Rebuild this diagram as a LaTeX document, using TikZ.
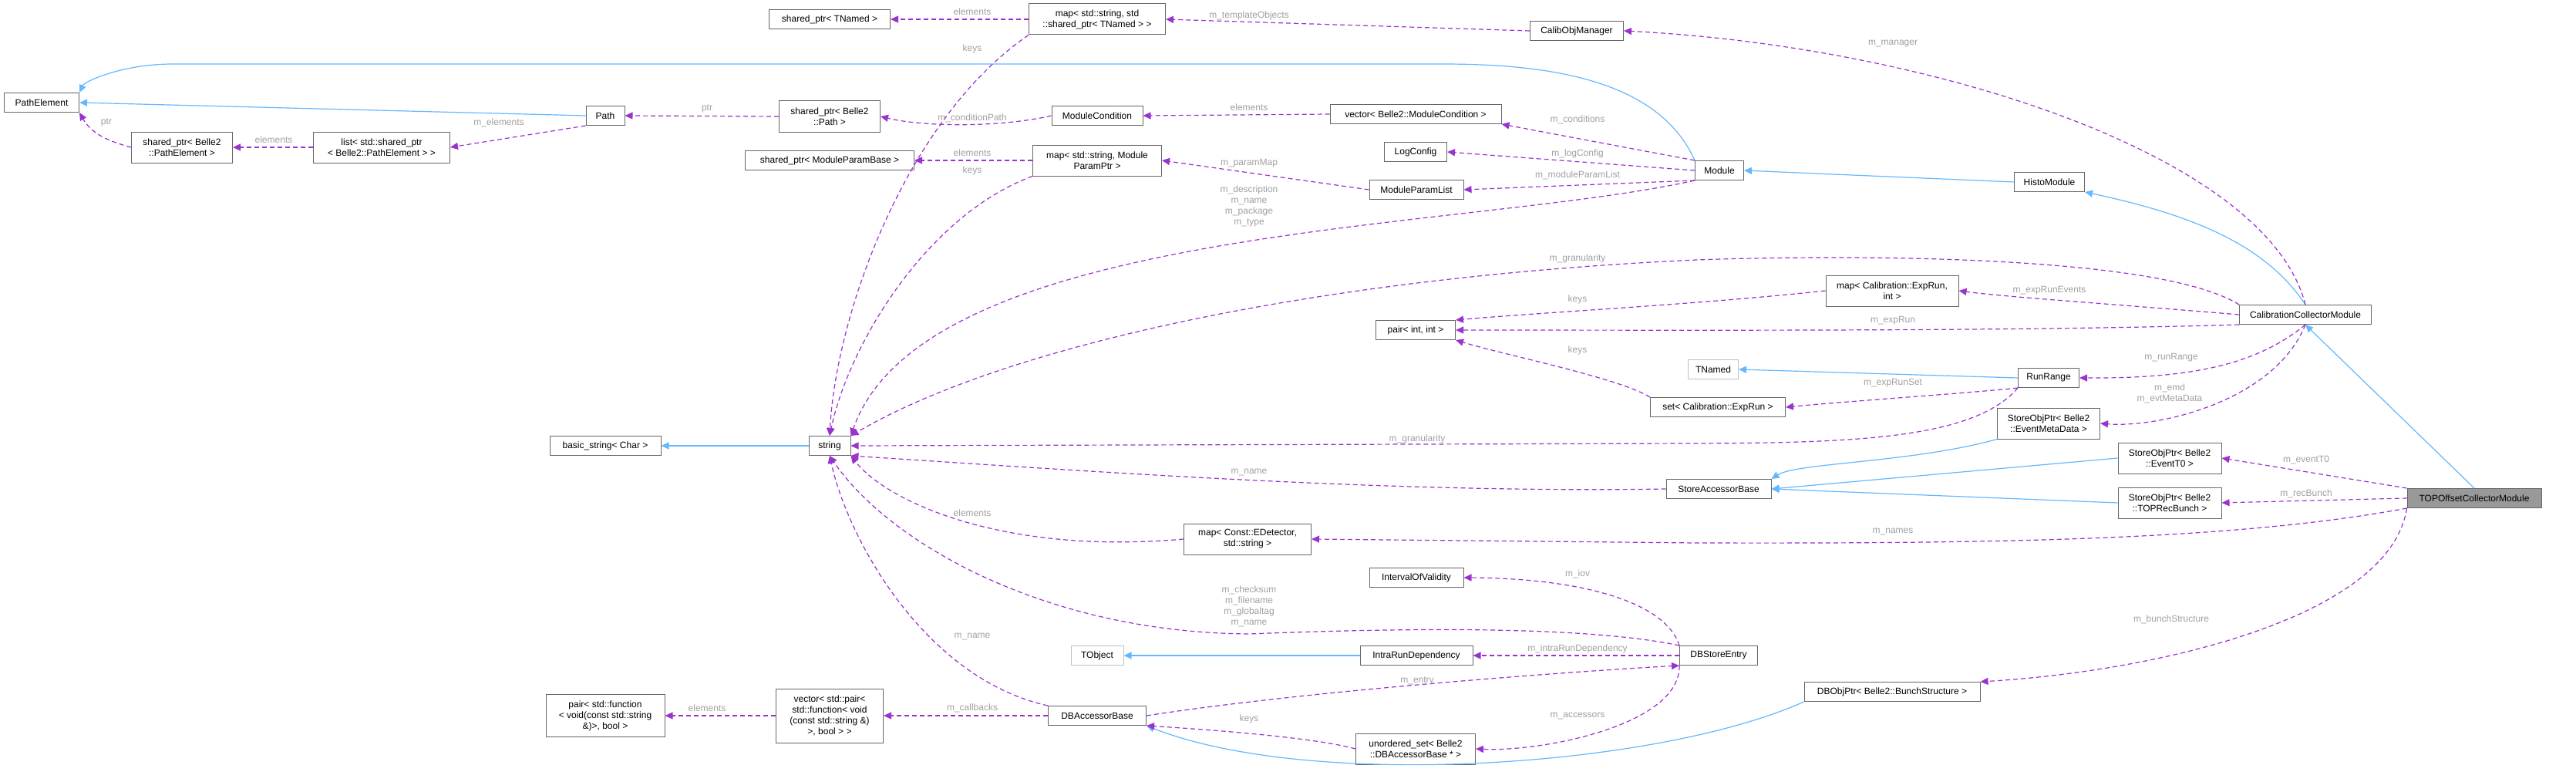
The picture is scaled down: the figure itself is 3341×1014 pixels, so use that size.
\documentclass[tikz,border=0pt]{standalone}
\usepackage{fontspec}
\setmainfont{Liberation Sans}
\usetikzlibrary{arrows.meta}
\definecolor{mp}{RGB}{154,50,205}
\definecolor{ib}{RGB}{99,184,255}
\definecolor{lg}{RGB}{160,160,160}
\tikzset{
 box/.style={draw=black!60,line width=1pt,fill=white,inner sep=1pt,align=center,font=\fontsize{12}{14}\selectfont},
 gbox/.style={box,draw=black!25},
 mem/.style={mp,dashed,dash pattern=on 6pt off 4pt,line width=1.2pt,-{Triangle[length=10pt,width=9pt]}},
 inh/.style={ib,line width=1.2pt,-{Triangle[length=10pt,width=9pt]}},
 lab/.style={text=lg,font=\fontsize{12}{14}\selectfont,align=center,inner sep=0pt}
}
\begin{document}
\begin{tikzpicture}[x=1pt,y=-1pt]
\path[use as bounding box,fill=white] (0,0) rectangle (3341,1014);
% nodes
\node[box,minimum width=97,minimum height=25] (PE) at (54,133) {PathElement};
\node[box,minimum width=50,minimum height=25] (Path) at (785,150) {Path};
\node[box,minimum width=131,minimum height=40] (spPE) at (236,191) {shared\_ptr< Belle2\\::PathElement >};
\node[box,minimum width=177,minimum height=40] (list) at (495,191) {list< std::shared\_ptr\\< Belle2::PathElement > >};
\node[box,minimum width=157,minimum height=25] (spTN) at (1076,25) {shared\_ptr< TNamed >};
\node[box,minimum width=177,minimum height=40] (mapTN) at (1423,25) {map< std::string, std\\::shared\_ptr< TNamed > >};
\node[box,minimum width=121,minimum height=25] (COM) at (2045,40) {CalibObjManager};
\node[box,minimum width=131,minimum height=40] (spPath) at (1076,151) {shared\_ptr< Belle2\\::Path >};
\node[box,minimum width=118,minimum height=25] (MC) at (1423,150) {ModuleCondition};
\node[box,minimum width=222,minimum height=25] (vecMC) at (1836,148) {vector< Belle2::ModuleCondition >};
\node[box,minimum width=219,minimum height=25] (spMPB) at (1076,208) {shared\_ptr< ModuleParamBase >};
\node[box,minimum width=167,minimum height=40] (mapMPP) at (1423,208) {map< std::string, Module\\ParamPtr >};
\node[box,minimum width=81,minimum height=25] (LC) at (1836,197) {LogConfig};
\node[box,minimum width=122,minimum height=25] (MPL) at (1837,246) {ModuleParamList};
\node[box,minimum width=63,minimum height=25] (Mod) at (2230,221) {Module};
\node[box,minimum width=91,minimum height=25] (HM) at (2658,236) {HistoModule};
\node[box,minimum width=103,minimum height=25] (pii) at (1836,428) {pair< int, int >};
\node[box,minimum width=172,minimum height=40] (mapER) at (2454,377) {map< Calibration::ExpRun,\\int >};
\node[box,minimum width=171,minimum height=25] (CCM) at (2990,408) {CalibrationCollectorModule};
\node[gbox,minimum width=65,minimum height=25] (TN) at (2222,479) {TNamed};
\node[box,minimum width=79,minimum height=25] (RR) at (2657,490) {RunRange};
\node[box,minimum width=175,minimum height=25] (setER) at (2228,528) {set< Calibration::ExpRun >};
\node[box,minimum width=54,minimum height=25] (str) at (1076,578) {string};
\node[box,minimum width=144,minimum height=25] (bs) at (785,578) {basic\_string< Char >};
\node[box,minimum width=133,minimum height=40] (EMD) at (2657,549) {StoreObjPtr< Belle2\\::EventMetaData >};
\node[box,minimum width=136,minimum height=25] (SAB) at (2229,634) {StoreAccessorBase};
\node[box,minimum width=134,minimum height=40] (ET0) at (2814,594) {StoreObjPtr< Belle2\\::EventT0 >};
\node[box,minimum width=134,minimum height=40] (TRB) at (2814,652) {StoreObjPtr< Belle2\\::TOPRecBunch >};
\node[box,minimum width=174,minimum height=25,fill=black!40] (TOP) at (3209,646) {TOPOffsetCollectorModule};
\node[box,minimum width=165,minimum height=40] (mapED) at (1618,699) {map< Const::EDetector,\\std::string >};
\node[box,minimum width=122,minimum height=25] (IOV) at (1837,749) {IntervalOfValidity};
\node[gbox,minimum width=68,minimum height=25] (TO) at (1423,850) {TObject};
\node[box,minimum width=146,minimum height=25] (IRD) at (1837,850) {IntraRunDependency};
\node[box,minimum width=101,minimum height=25] (DBE) at (2229,850) {DBStoreEntry};
\node[box,minimum width=127,minimum height=25] (DBA) at (1423,928) {DBAccessorBase};
\node[box,minimum width=139,minimum height=70] (vp) at (1076,928) {vector< std::pair<\\std::function< void\\(const std::string \&)\\>, bool > >};
\node[box,minimum width=154,minimum height=55] (pf) at (785,928) {pair< std::function\\< void(const std::string\\\&)>, bool >};
\node[box,minimum width=155,minimum height=40] (us) at (1836,971) {unordered\_set< Belle2\\::DBAccessorBase * >};
\node[box,minimum width=228,minimum height=25] (DBO) at (2454,897) {DBObjPtr< Belle2::BunchStructure >};
% inheritance
\draw[inh] (Path.west) -- (PE.east);
\draw[inh] (Mod.north west) .. controls (2150,100) and (2000,83) .. (1870,83) -- (224,83) .. controls (160,83) and (110,105) .. (PE.north east);
\draw[inh] (HM.west) -- (Mod.east);
\draw[inh] (CCM.north) .. controls (2940,320) and (2850,280) .. (HM.south east);
\draw[inh] (TOP.north) -- (CCM.south);
\draw[inh] (RR.west) -- (TN.east);
\draw[inh] (str.west) -- (bs.east);
\draw[inh] (EMD.south west) .. controls (2480,600) and (2330,600) .. (SAB.north east);
\draw[inh] (ET0.west) -- (SAB.east);
\draw[inh] (TRB.west) -- (SAB.east);
\draw[inh] (IRD.west) -- (TO.east);
\draw[inh] (DBO.south west) .. controls (2150,995) and (1700,1025) .. (DBA.south east);
% members
\draw[mem] (spPE.west) to[out=165,in=-60] (PE.south east);
\draw[mem] (list.west) -- (spPE.east);
\draw[mem] (Path.south west) -- (list.east);
\draw[mem] (spPath.west) -- (Path.east);
\draw[mem] (mapTN.west) -- (spTN.east);
\draw[mem] (mapTN.south west) .. controls (1180,150) and (1085,400) .. (str.north);
\draw[mem] (COM.west) -- (mapTN.east);
\draw[mem] (CCM.north) .. controls (2940,200) and (2500,60) .. (COM.east);
\draw[mem] (MC.west) .. controls (1300,165) and (1200,165) .. (spPath.east);
\draw[mem] (vecMC.west) -- (MC.east);
\draw[mem] (Mod.north west) -- (vecMC.south east);
\draw[mem] (Mod.west) -- (LC.east);
\draw[mem] (Mod.south west) -- (MPL.east);
\draw[mem] (MPL.west) -- (mapMPP.east);
\draw[mem] (mapMPP.west) -- (spMPB.east);
\draw[mem] (mapMPP.south west) .. controls (1200,280) and (1100,450) .. (str.north);
\draw[mem] (Mod.south west) .. controls (1900,300) and (1200,290) .. (str.north east);
\draw[mem] (CCM.north west) .. controls (2800,330) and (2400,330) .. (2200,337) .. controls (1700,360) and (1300,450) .. (str.north east);
\draw[mem] (mapER.west) .. controls (2200,395) and (2000,405) .. (pii.north east);
\draw[mem] (CCM.west) .. controls (2750,395) and (2600,385) .. (mapER.east);
\draw[mem] (CCM.south west) .. controls (2600,430) and (2200,428) .. (pii.east);
\draw[mem] (setER.north west) .. controls (2100,490) and (1950,460) .. (pii.south east);
\draw[mem] (CCM.south) .. controls (2930,470) and (2850,491) .. (RR.east);
\draw[mem] (RR.south west) .. controls (2550,510) and (2400,520) .. (setER.east);
\draw[mem] (RR.south west) .. controls (2560,570) and (2400,574) .. (2200,575) -- (str.east);
\draw[mem] (CCM.south) .. controls (2950,520) and (2800,555) .. (EMD.east);
\draw[mem] (SAB.west) .. controls (1800,640) and (1400,610) .. (str.south east);
\draw[mem] (TOP.north west) -- (ET0.east);
\draw[mem] (TOP.west) -- (TRB.east);
\draw[mem] (TOP.south west) .. controls (2900,700) and (2600,705) .. (2200,704) -- (mapED.east);
\draw[mem] (mapED.west) .. controls (1300,720) and (1150,650) .. (str.south east);
\draw[mem] (DBE.north west) .. controls (2050,810) and (1800,815) .. (1620,822) .. controls (1350,820) and (1150,700) .. (str.south);
\draw[mem] (DBE.north west) .. controls (2160,780) and (2050,750) .. (IOV.east);
\draw[mem] (DBE.west) -- (IRD.east);
\draw[mem] (DBA.east) .. controls (1700,895) and (2050,870) .. (DBE.south west);
\draw[mem] (DBA.north west) .. controls (1200,880) and (1100,700) .. (str.south);
\draw[mem] (DBA.west) -- (vp.east);
\draw[mem] (vp.west) -- (pf.east);
\draw[mem] (us.west) .. controls (1700,955) and (1550,945) .. (DBA.south east);
\draw[mem] (DBE.south west) .. controls (2180,940) and (2000,975) .. (us.east);
\draw[mem] (TOP.south west) .. controls (3100,800) and (2800,870) .. (DBO.north east);
% labels
\node[lab] (l1) at (138,159) {ptr};
\node[lab] (l2) at (355,181) {elements};
\node[lab] (l3) at (647,159) {m\_elements};
\node[lab] (l4) at (917,141) {ptr};
\node[lab] (l5) at (1261,15) {elements};
\node[lab] (l6) at (1261,63) {keys};
\node[lab] (l7) at (1620,20) {m\_templateObjects};
\node[lab] (l8) at (1261,153) {m\_conditionPath};
\node[lab] (l9) at (1620,139) {elements};
\node[lab] (l10) at (2046,155) {m\_conditions};
\node[lab] (l11) at (2046,199) {m\_logConfig};
\node[lab] (l12) at (2046,227) {m\_moduleParamList};
\node[lab] (l13) at (1620,212) {m\_paramMap};
\node[lab] (l14) at (1261,198) {elements};
\node[lab] (l15) at (1261,221) {keys};
\node[lab] (l16) at (1620,267) {m\_description\\m\_name\\m\_package\\m\_type};
\node[lab] (l17) at (2046,335) {m\_granularity};
\node[lab] (l18) at (2046,388) {keys};
\node[lab] (l19) at (2046,454) {keys};
\node[lab] (l20) at (2455,57) {m\_manager};
\node[lab] (l21) at (2658,377) {m\_expRunEvents};
\node[lab] (l22) at (2455,416) {m\_expRun};
\node[lab] (l23) at (2816,464) {m\_runRange};
\node[lab] (l24) at (2455,497) {m\_expRunSet};
\node[lab] (l25) at (2814,510) {m\_emd\\m\_evtMetaData};
\node[lab] (l26) at (2991,596) {m\_eventT0};
\node[lab] (l27) at (2991,640) {m\_recBunch};
\node[lab] (l28) at (2455,689) {m\_names};
\node[lab] (l29) at (2816,803) {m\_bunchStructure};
\node[lab] (l30) at (1838,569) {m\_granularity};
\node[lab] (l31) at (1620,612) {m\_name};
\node[lab] (l32) at (1261,665) {elements};
\node[lab] (l33) at (2046,744) {m\_iov};
\node[lab] (l34) at (1620,786) {m\_checksum\\m\_filename\\m\_globaltag\\m\_name};
\node[lab] (l35) at (1261,825) {m\_name};
\node[lab] (l36) at (2046,841) {m\_intraRunDependency};
\node[lab] (l37) at (1838,883) {m\_entry};
\node[lab] (l38) at (1261,918) {m\_callbacks};
\node[lab] (l39) at (1620,932) {keys};
\node[lab] (l40) at (2046,928) {m\_accessors};
\node[lab] (l41) at (917,918) {elements};
\end{tikzpicture}
\end{document}
